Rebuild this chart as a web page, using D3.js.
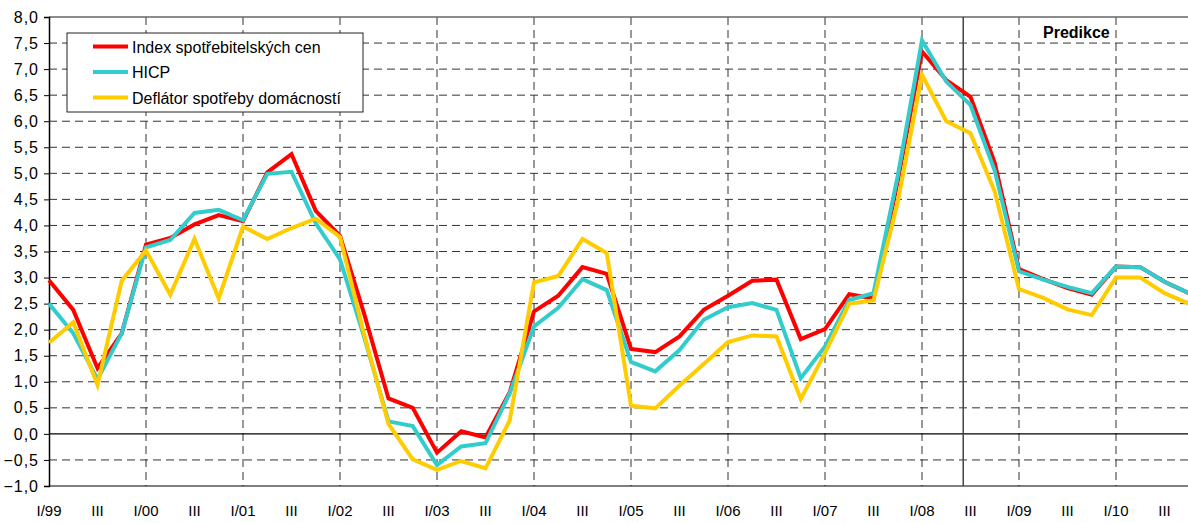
<!DOCTYPE html>
<meta charset="utf-8">
<style>
  html, body { margin: 0; padding: 0; background: #fff; }
  body { font-family: 'Liberation Sans', Arial, sans-serif; }
  .grid line { stroke: #333; stroke-width: 1; stroke-dasharray: 8,5; }
</style>
<script src="https://d3js.org/d3.v7.min.js"></script>
<div id="chart"></div>
<script>
// quarterly data, I/99 .. IV/10
var xLabels = ["I/99","III","I/00","III","I/01","III","I/02","III","I/03","III","I/04","III",
               "I/05","III","I/06","III","I/07","III","I/08","III","I/09","III","I/10","III"];
var yTicks = [-1,-0.5,0,0.5,1,1.5,2,2.5,3,3.5,4,4.5,5,5.5,6,6.5,7,7.5,8];
var seriesNames = ["Index spotřebitelských cen","HICP","Deflátor spotřeby domácností"];
var seriesColors = ["#ff0000","#33cccc","#ffcc00"];

var cpi = [2.95,2.38,1.26,1.93,3.63,3.76,4.02,4.2,4.08,5.02,5.37,4.28,
           3.8,2.3,0.68,0.5,-0.36,0.05,-0.07,0.8,2.35,2.65,3.2,3.07,
           1.63,1.57,1.87,2.38,2.65,2.94,2.96,1.82,2.01,2.68,2.6,4.85,
           7.34,6.79,6.47,5.2,3.16,2.97,2.8,2.67,3.21,3.2,2.92,2.7];
var hicp = [2.5,1.93,1.05,1.93,3.58,3.72,4.24,4.3,4.1,4.99,5.03,4.04,
            3.35,1.85,0.24,0.15,-0.6,-0.24,-0.18,0.78,2.06,2.42,2.97,2.76,
            1.38,1.2,1.61,2.19,2.43,2.51,2.38,1.07,1.68,2.57,2.7,4.95,
            7.55,6.76,6.31,5.05,3.12,2.96,2.82,2.7,3.21,3.2,2.92,2.7];
var deflator = [1.75,2.14,0.94,2.94,3.52,2.67,3.74,2.6,3.98,3.74,3.95,4.13,
                3.78,1.9,0.19,-0.49,-0.69,-0.52,-0.66,0.26,2.91,3.03,3.74,3.47,
                0.54,0.49,0.93,1.34,1.76,1.89,1.87,0.67,1.55,2.5,2.56,4.45,
                6.89,6.0,5.77,4.65,2.78,2.61,2.39,2.28,3.0,3.0,2.7,2.5];
var predStart = 37.7;   // forecast divider (in quarters)
var predLabel = "Predikce";

var W = 1188, H = 523;
var svg = d3.select("#chart").append("svg").attr("width", W).attr("height", H);

var x = d3.scaleLinear().domain([0, cpi.length - 1]).range([49, 49 + 47 * 24.25]);
var y = d3.scaleLinear().domain([-1, 8]).range([486, 17]);

// horizontal dashed grid
svg.append("g").attr("class", "grid")
  .selectAll("line").data(yTicks.filter(function(d){ return d > -1 && d < 8 && d !== 0; }))
  .enter().append("line")
    .attr("x1", x(0)).attr("x2", W)
    .attr("y1", function(d){ return y(d); }).attr("y2", function(d){ return y(d); });

// vertical dashed grid at each year
svg.append("g").attr("class", "grid")
  .selectAll("line").data(d3.range(4, cpi.length, 4))
  .enter().append("line")
    .attr("x1", function(d){ return x(d); }).attr("x2", function(d){ return x(d); })
    .attr("y1", y(8)).attr("y2", y(-1));

// frame lines
svg.append("line").attr("x1", x(0)).attr("x2", W).attr("y1", y(8)).attr("y2", y(8))
  .attr("stroke", "#666").attr("stroke-width", 1.5);
svg.append("line").attr("x1", x(0)).attr("x2", W).attr("y1", y(-1)).attr("y2", y(-1))
  .attr("stroke", "#000").attr("stroke-width", 1.2);
svg.append("line").attr("x1", x(0)).attr("x2", W).attr("y1", y(0)).attr("y2", y(0))
  .attr("stroke", "#000").attr("stroke-width", 1.2);

// forecast divider
svg.append("line").attr("x1", x(predStart)).attr("x2", x(predStart))
  .attr("y1", y(8)).attr("y2", y(-1))
  .attr("stroke", "#444").attr("stroke-width", 1.5);

// y axis
var yAxis = svg.append("g").attr("transform", "translate(" + x(0) + ",0)")
  .call(d3.axisLeft(y).tickValues(yTicks).tickSize(5).tickPadding(5)
        .tickFormat(function(d){ return d3.format(".1f")(d).replace(".", ","); }));
yAxis.select(".domain").attr("stroke", "#000").attr("stroke-width", 1.5);
yAxis.selectAll(".tick line").attr("stroke", "#000");
yAxis.selectAll("text").attr("font-size", 16).attr("letter-spacing", 1)
  .attr("font-family", "'Liberation Sans', Arial, sans-serif").attr("fill", "#000");

// x labels
svg.append("g").selectAll("text").data(xLabels).enter().append("text")
  .attr("x", function(d, i){ return x(i * 2); })
  .attr("y", 516)
  .attr("text-anchor", "middle")
  .attr("font-size", 15)
  .text(function(d){ return d; });

// lines
var line = d3.line().x(function(d, i){ return x(i); }).y(function(d){ return y(d); });
[cpi, hicp, deflator].forEach(function(s, k) {
  svg.append("path").datum(s)
    .attr("fill", "none")
    .attr("stroke", seriesColors[k])
    .attr("stroke-width", 4)
    .attr("stroke-linejoin", "miter")
    .attr("d", line);
});

// Predikce label
svg.append("text").attr("x", 1043).attr("y", 38)
  .attr("font-size", 16).attr("font-weight", "bold").text(predLabel);

// legend
var lg = svg.append("g").attr("transform", "translate(67,33)");
lg.append("rect").attr("width", 296).attr("height", 79)
  .attr("fill", "#fff").attr("stroke", "#222").attr("stroke-width", 1);
seriesNames.forEach(function(n, k) {
  var yy = 13.5 + k * 25.5;
  lg.append("line").attr("x1", 26).attr("x2", 61).attr("y1", yy).attr("y2", yy)
    .attr("stroke", seriesColors[k]).attr("stroke-width", 4);
  lg.append("text").attr("x", 65).attr("y", yy + 6).attr("font-size", 16).text(n);
});
</script>
